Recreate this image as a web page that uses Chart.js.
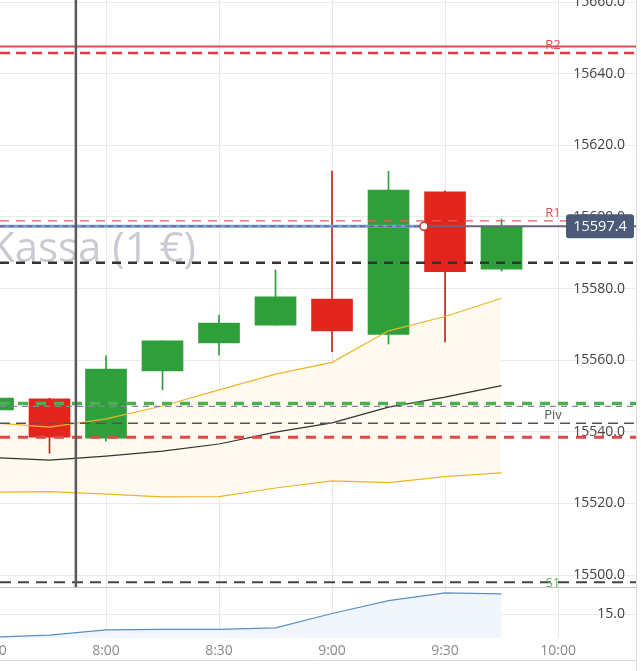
<!DOCTYPE html>
<html><head><meta charset="utf-8">
<script src="https://cdn.jsdelivr.net/npm/chart.js@4.4.1/dist/chart.umd.min.js"></script>
<style>
html,body{margin:0;padding:0;background:#fff;}
canvas{display:block;}
</style></head><body>
<canvas id="c" width="641" height="671"></canvas>
<script>
// ---- data ----
const times  = ['7:30','7:45','8:00','8:15','8:30','8:45','9:00','9:15','9:30','9:45'];
const opens  = [15546.1, 15549.2, 15538.2, 15557.0, 15564.8, 15569.8, 15577.1, 15567.2, 15607.0, 15585.4];
const closes = [15549.4, 15538.5, 15557.5, 15565.4, 15570.4, 15577.7, 15568.2, 15607.5, 15584.7, 15597.4];
const highs  = [15550.0, 15549.4, 15561.2, 15565.4, 15572.6, 15585.2, 15612.8, 15612.8, 15607.3, 15599.4];
const lows   = [15545.0, 15534.0, 15537.4, 15551.7, 15561.5, 15569.8, 15562.4, 15564.5, 15565.1, 15584.9];
const bbUpper  = [15542.5, 15541.3, 15543.6, 15547.2, 15551.7, 15556.1, 15559.4, 15568.2, 15572.2, 15577.3];
const bbMiddle = [15532.8, 15532.1, 15533.2, 15534.6, 15536.6, 15539.9, 15542.5, 15546.9, 15549.7, 15552.9];
const bbLower  = [15523.1, 15523.3, 15522.6, 15521.8, 15521.9, 15524.3, 15526.3, 15525.8, 15527.5, 15528.5];
const indicator = [14.52, 14.56, 14.67, 14.68, 14.68, 14.71, 15.01, 15.28, 15.44, 15.42];
const levelNames  = ['R2', '', 'R1', '', '', '', 'Piv', '', 'S1'];
const levelValues = [15645.8, 15647.6, 15598.9, 15587.2, 15547.9, 15547.1, 15542.4, 15538.5, 15498.0];
const priceTicks = [15500, 15520, 15540, 15560, 15580, 15600, 15620, 15640, 15660];
const indicatorTicks = [15.0];
const xTickLabels = ['7:30','8:00','8:30','9:00','9:30','10:00'];
const lastPrice = 15597.4;
const lastPriceMarkTime = '9:24.4';
const markerTime = '7:52.0';
const watermark = 'Kassa (1 €)';

// ---- helpers ----
function toMin(s){ const p = s.split(':'); return (+p[0])*60 + parseFloat(p[1]); }
const X_MIN = 451.86, X_MAX = 620.96;
const Y_MIN = 15496.65, Y_MAX = 15660.61;
const xs = times.map(toMin);
const markT = toMin(lastPriceMarkTime);
const crossT = toMin(markerTime);

const GREEN = '#2f9f3c', RED = '#e2261e', RED_WICK = '#b8281f';
const up = opens.map((o,i)=>closes[i] >= o);

const levelStyles = [
  {color:'#e0393c', width:2.5, dash:[10,6]},
  {color:'#d9534f', width:2,   dash:[]},
  {color:'#e35a5a', width:1.2, dash:[9,7]},
  {color:'#333333', width:2.5, dash:[9,7]},
  {color:'#4caf50', width:3.5, dash:[10,8]},
  {color:'#8a82aa', width:1.4, dash:[6,5]},
  {color:'#555555', width:1.5, dash:[10,6]},
  {color:'#e04848', width:3,   dash:[10,8]},
  {color:'#444444', width:2,   dash:[11,7]}
];
const labelColors = {R2:'#e05050', R1:'#e05050', Piv:'#555555', S1:'#5cb85c'};
const labelOffsets = {R2:-4, R1:-4, Piv:-4, S1:5};

const datasets = [];
datasets.push({type:'line', label:'bbU', data: xs.map((x,i)=>({x, y:bbUpper[i]})), borderColor:'#f0b428', borderWidth:1.2, fill:2, backgroundColor:'#fffaf0', order:8});
datasets.push({type:'line', label:'bbM', data: xs.map((x,i)=>({x, y:bbMiddle[i]})), borderColor:'#333', borderWidth:1.2, fill:false, order:8});
datasets.push({type:'line', label:'bbL', data: xs.map((x,i)=>({x, y:bbLower[i]})), borderColor:'#f0b428', borderWidth:1.2, fill:false, order:8});
datasets.push({type:'bar', label:'wick', data: xs.map((x,i)=>({x, y:[lows[i], highs[i]]})), backgroundColor: up.map(u=>u?GREEN:RED_WICK), barThickness:1, grouped:false, order:20});
datasets.push({type:'bar', label:'body', data: xs.map((x,i)=>({x, y:[opens[i], closes[i]]})), backgroundColor: up.map(u=>u?GREEN:RED), barThickness:41, grouped:false, order:19});
levelValues.forEach((v,i)=>{
  const st = levelStyles[i];
  datasets.push({type:'line', label:'lvl'+i, data:[{x:X_MIN,y:v},{x:X_MAX,y:v}], borderColor:st.color, borderWidth:st.width, borderDash:st.dash, fill:false, order:5});
});
datasets.push({type:'line', label:'lastBlue', data:[{x:X_MIN,y:lastPrice},{x:markT,y:lastPrice}], borderColor:'#6b9fd6', borderWidth:3, fill:false, order:3});
datasets.push({type:'line', label:'lastDash', data:[{x:X_MIN,y:lastPrice},{x:markT,y:lastPrice}], borderColor:'#7d5f8f', borderWidth:1.6, borderDash:[5,4], fill:false, order:2});
datasets.push({type:'line', label:'lastSolid', data:[{x:markT,y:lastPrice},{x:X_MAX,y:lastPrice}], borderColor:'#6e6280', borderWidth:2, fill:false, order:2});
datasets.push({type:'line', label:'lastMark', data:[{x:markT,y:lastPrice}], showLine:false, pointRadius:4, pointBackgroundColor:'#fff', pointBorderColor:'#c0392b', pointBorderWidth:1.5, order:1});
datasets.push({type:'line', label:'cross', data:[{x:crossT,y:Y_MIN},{x:crossT,y:Y_MAX}], borderColor:'#5a5a5a', borderWidth:2.5, fill:false, order:1});
datasets.push({type:'line', label:'ind', yAxisID:'y2', data: xs.map((x,i)=>({x, y:indicator[i]})), borderColor:'#5b8fc9', borderWidth:1.2, fill:'start', backgroundColor:'#f0f6fc', order:8});

function zeroPad(s){ s.paddingLeft = 0; s.paddingRight = 0; s.paddingTop = 0; s.paddingBottom = 0; }

const overlay = {
  id:'overlay',
  beforeDatasetsDraw(chart){
    const ctx = chart.ctx, a = chart.chartArea;
    ctx.save();
    ctx.font = '42px "Open Sans"';
    ctx.fillStyle = '#cacad2';
    ctx.textAlign = 'right';
    ctx.textBaseline = 'alphabetic';
    ctx.fillText(watermark, a.left + 196, a.top + 262);
    ctx.restore();
  },
  afterDatasetsDraw(chart){
    const ctx = chart.ctx, a = chart.chartArea, ys = chart.scales.y, y2 = chart.scales.y2;
    ctx.save();
    // separator
    ctx.strokeStyle = '#c4c4c4'; ctx.lineWidth = 1;
    ctx.beginPath(); ctx.moveTo(a.left, Math.round(y2.top)+0.5); ctx.lineTo(a.right, Math.round(y2.top)+0.5); ctx.stroke();
    // right border + bottom line
    ctx.strokeStyle = '#dcdcdc';
    ctx.beginPath(); ctx.moveTo(a.right - 0.5, 0); ctx.lineTo(a.right - 0.5, chart.height); ctx.stroke();
    ctx.beginPath(); ctx.moveTo(0, chart.height - 10.5); ctx.lineTo(a.right, chart.height - 10.5); ctx.stroke();
    // level labels
    ctx.font = '13px "Open Sans"';
    ctx.textAlign = 'center';
    levelNames.forEach((n,i)=>{
      if(!n) return;
      const py = ys.getPixelForValue(levelValues[i]);
      ctx.fillStyle = labelColors[n];
      ctx.textBaseline = 'alphabetic';
      ctx.fillText(n, a.right - 84, py + labelOffsets[n]);
    });
    // price tag
    const py = ys.getPixelForValue(lastPrice);
    const w = 68, h = 24, x0 = a.right - 3 - w;
    ctx.fillStyle = '#4b5a79';
    ctx.beginPath();
    ctx.roundRect(x0, py - h/2, w, h, 3);
    ctx.fill();
    ctx.fillStyle = '#ffffff';
    ctx.font = '14.5px "Open Sans"';
    ctx.textBaseline = 'middle';
    ctx.fillText(lastPrice.toFixed(1), x0 + w/2, py + 1);
    ctx.restore();
  }
};

new Chart(document.getElementById('c'), {
  type:'line',
  data:{ datasets },
  plugins:[overlay],
  options:{
    responsive:false, animation:false, events:[],
    layout:{ padding:0, autoPadding:false },
    elements:{ point:{radius:0}, line:{tension:0}, bar:{borderWidth:0} },
    plugins:{ legend:{display:false}, tooltip:{enabled:false}, filler:{drawTime:'beforeDatasetsDraw'} },
    scales:{
      x:{ type:'linear', position:'bottom', min:X_MIN, max:X_MAX, bounds:'data', offset:false,
          grid:{color:'#e8e8e8', drawTicks:false, offset:false}, border:{display:false},
          ticks:{ autoSkip:false, maxRotation:0, padding:5, color:'#8a8a8a', font:{family:'Open Sans', size:14},
                  callback:(v,i)=>xTickLabels[i] },
          afterBuildTicks:s=>{ s.ticks = xTickLabels.map(t=>({value:toMin(t)})); },
          afterFit:s=>{ s.height = 33; zeroPad(s); } },
      y:{ type:'linear', position:'right', stack:'p', stackWeight:587, weight:0, min:Y_MIN, max:Y_MAX, bounds:'data',
          grid:{color:'#ebebeb', drawTicks:false}, border:{display:false},
          ticks:{ mirror:true, padding:-12, color:'#444', font:{family:'Open Sans', size:14}, callback:v=>v.toFixed(1) },
          afterBuildTicks:s=>{ s.ticks = priceTicks.map(v=>({value:v})); },
          afterFit:s=>{ s.width = 4; zeroPad(s); } },
      y2:{ type:'linear', position:'right', stack:'p', stackWeight:51, weight:1, min:14.5, max:15.5625, bounds:'data',
          grid:{color:'#ebebeb', drawTicks:false}, border:{display:false},
          ticks:{ mirror:true, padding:-12, color:'#444', font:{family:'Open Sans', size:14}, callback:v=>v.toFixed(1) },
          afterBuildTicks:s=>{ s.ticks = indicatorTicks.map(v=>({value:v})); },
          afterFit:s=>{ s.width = 4; zeroPad(s); } }
    }
  }
});
</script>
</body></html>
